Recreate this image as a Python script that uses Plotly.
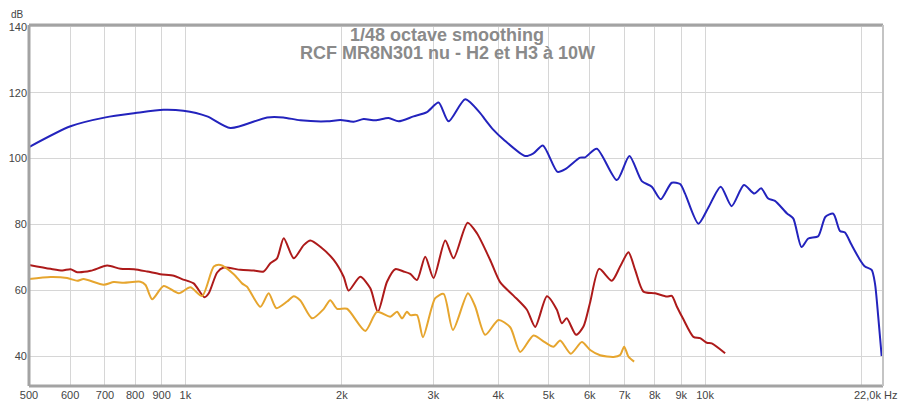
import plotly.graph_objects as go

# ---- data ----
fund_freq = [500, 601, 702, 801, 907, 991, 1101, 1220, 1436, 1543, 1664, 1873, 1987, 2107, 2203, 2320,
             2460, 2572, 2748, 2916, 3070, 3209, 3455, 3692, 3775, 3911, 4094, 4507, 4675, 4874, 5200,
             5381, 5748, 5877, 6189, 6765, 7152, 7555, 7897, 8218, 8629, 8953, 9152, 9708, 10150, 10720,
             11250, 11880, 12440, 12820, 13230, 13630, 14380, 14780, 15330, 15800, 16510, 17050, 17650,
             18180, 18590, 19090, 19870, 20310, 20920, 21230, 21540, 21870]
fund_db = [103.5, 109.8, 112.5, 113.8, 114.8, 114.5, 112.8, 109.3, 112.5, 112.5, 111.6, 111.3, 111.7,
           111.2, 112.0, 111.6, 112.3, 111.3, 112.8, 114.1, 117.0, 111.3, 118.0, 113.8, 111.8, 108.8,
           105.8, 100.8, 101.6, 104.0, 96.0, 96.8, 100.3, 100.4, 103.0, 93.5, 100.8, 93.2, 91.5, 87.7,
           92.7, 92.3, 89.4, 80.3, 85.2, 91.5, 85.6, 92.0, 89.4, 91.0, 87.9, 87.2, 83.4, 81.9, 73.2,
           75.8, 76.5, 82.4, 83.3, 78.1, 77.6, 74.2, 69.3, 67.3, 66.3, 62.2, 52.1, 40.2]

h2_freq = [500, 550, 580, 601, 619, 657, 707, 750, 796, 844, 895, 950, 985, 1037, 1088, 1109, 1151,
           1185, 1276, 1353, 1414, 1457, 1501, 1546, 1616, 1689, 1740, 1818, 1929, 2016, 2061, 2170,
           2269, 2346, 2443, 2534, 2630, 2708, 2790, 2894, 3003, 3162, 3281, 3491, 3639, 3859, 4035,
           4279, 4541, 4711, 4962, 5185, 5301, 5416, 5647, 5834, 6010, 6254, 6616, 6863, 7122, 7336,
           7610, 8013, 8440, 8630, 8823, 9085, 9496, 9781, 10080, 10300, 10930]
h2_db = [67.8, 66.6, 66.1, 66.5, 65.6, 66.0, 67.6, 66.6, 66.5, 65.8, 65.0, 64.5, 63.5, 62.2, 58.0,
         59.2, 65.5, 67.0, 66.3, 66.1, 65.8, 68.3, 69.8, 75.9, 69.8, 73.8, 75.2, 73.3, 69.3, 64.2,
         60.0, 64.2, 60.7, 53.6, 62.7, 66.5, 65.8, 65.1, 63.2, 70.3, 63.8, 75.2, 69.8, 80.6, 77.4,
         69.3, 62.5, 58.5, 54.2, 49.0, 58.3, 54.2, 50.1, 51.6, 46.6, 49.1, 56.5, 66.6, 63.0, 67.3,
         71.6, 66.3, 59.7, 59.2, 58.2, 58.4, 55.2, 51.3, 46.0, 45.6, 44.2, 44.0, 41.0]

h3_freq = [500, 550, 592, 619, 637, 696, 728, 761, 819, 838, 863, 908, 971, 1022, 1077, 1134, 1168,
           1239, 1285, 1314, 1394, 1446, 1496, 1569, 1616, 1664, 1753, 1845, 1900, 1958, 2046, 2219,
           2337, 2479, 2554, 2611, 2669, 2708, 2790, 2865, 3025, 3139, 3272, 3497, 3611, 3775, 4004,
           4217, 4408, 4675, 4903, 5108, 5262, 5516, 5793, 6010, 6281, 6666, 6863, 6988, 7122, 7303]
h3_db = [63.5, 64.1, 63.8, 63.0, 63.5, 61.8, 62.6, 62.4, 62.7, 61.7, 57.4, 61.4, 59.2, 61.0, 58.4,
         67.3, 67.8, 65.0, 62.2, 61.2, 55.1, 59.2, 54.7, 56.7, 58.3, 57.0, 51.6, 54.4, 57.1, 54.5,
         54.5, 47.8, 53.6, 52.1, 53.6, 51.6, 53.6, 52.6, 52.6, 45.9, 57.7, 59.0, 48.1, 59.2, 55.2,
         46.6, 51.1, 48.9, 41.4, 46.4, 44.5, 43.0, 44.9, 40.9, 44.4, 42.0, 40.4, 39.9, 40.5, 43.0,
         40.0, 38.5]

x_tickvals = [500, 600, 700, 800, 900, 1000, 2000, 3000, 4000, 5000, 6000, 7000, 8000, 9000, 10000, 20000]
x_ticktext = ["500", "600", "700", "800", "900", "1k", "2k", "3k", "4k", "5k", "6k", "7k", "8k", "9k", "10k", ""]
y_tickvals = [40, 60, 80, 100, 120, 140]

title_lines = ["1/48 octave smoothing", "RCF MR8N301 nu - H2 et H3 à 10W"]

# ---- figure ----
fig = go.Figure()
series = [
    (fund_freq, fund_db, "#2323bd", "Fundamental"),
    (h2_freq, h2_db, "#ad1a1a", "H2"),
    (h3_freq, h3_db, "#e6a52e", "H3"),
]
for xs, ys, col, name in series:
    fig.add_trace(go.Scatter(x=xs, y=ys, mode="lines", name=name,
                             line=dict(color=col, width=2, shape="spline", smoothing=0.7)))

fig.update_layout(
    width=899, height=402,
    margin=dict(l=29, r=16, t=25, b=16, autoexpand=False),
    paper_bgcolor="white", plot_bgcolor="white",
    showlegend=False,
    font=dict(family="Liberation Sans, Arial, sans-serif", size=11, color="#444444"),
    xaxis=dict(type="log", range=[2.69897, 4.342423], tickvals=x_tickvals, ticktext=x_ticktext,
               showgrid=True, gridcolor="#d6d6d6", gridwidth=1, zeroline=False, automargin=False,
               ticks="", ticklabelstandoff=1, showline=False, fixedrange=True),
    yaxis=dict(range=[31.1, 140.5], tickvals=y_tickvals, showgrid=True, gridcolor="#d6d6d6",
               gridwidth=1, zeroline=False, automargin=False, ticks="", ticklabelstandoff=1,
               showline=False, fixedrange=True),
)

# frame
fig.add_shape(type="line", xref="paper", yref="paper", x0=0, x1=0, y0=0, y1=1,
              line=dict(color="#a3a3a3", width=3))
fig.add_shape(type="line", xref="paper", yref="paper", x0=0, x1=1, y0=1, y1=1,
              line=dict(color="#a3a3a3", width=3))
fig.add_shape(type="line", xref="paper", yref="paper", x0=0, x1=1, y0=0, y1=0,
              line=dict(color="#a3a3a3", width=3))
fig.add_shape(type="line", xref="paper", yref="paper", x0=1, x1=1, y0=0, y1=1,
              line=dict(color="#c4c4c4", width=2))

# title (two lines, set close together)
for line_text, shift in zip(title_lines, [-10, -28]):
    fig.add_annotation(text="<b>" + line_text + "</b>",
                       xref="paper", yref="paper", x=0.4895, y=1, yshift=shift,
                       xanchor="center", yanchor="middle", showarrow=False,
                       font=dict(family="Liberation Sans, Arial, sans-serif", size=18, color="#8a8a8a"))
# dB label
fig.add_annotation(text="dB", xref="paper", yref="paper", x=0, y=1, xshift=-12, yshift=3,
                   xanchor="center", yanchor="bottom", showarrow=False,
                   font=dict(size=10, color="#444444"))
# right-end frequency label
fig.add_annotation(text="22,0k Hz", xref="paper", yref="paper", x=1, y=0, xshift=16, yshift=-1,
                   xanchor="right", yanchor="top", showarrow=False,
                   font=dict(size=11, color="#444444"))

fig.write_html("out.html", config={"displayModeBar": False})
